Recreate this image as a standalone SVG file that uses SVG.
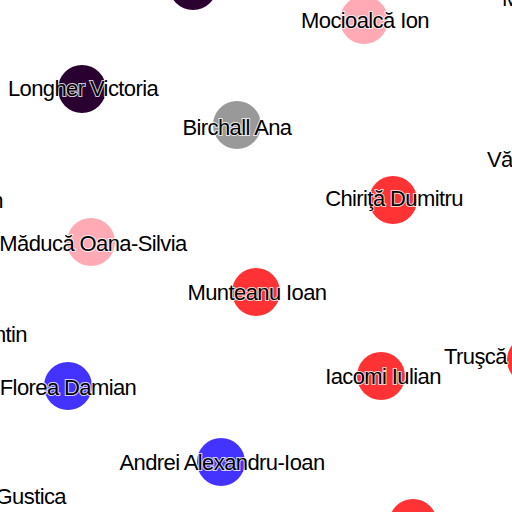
<svg xmlns="http://www.w3.org/2000/svg" width="512" height="512" viewBox="0 0 512 512">
<style>
.n{stroke:none}
.t{font-family:"Liberation Sans",Arial,sans-serif;font-size:22px;letter-spacing:-0.6px;fill:#000;stroke:#fff;stroke-width:2px;stroke-opacity:.8;paint-order:stroke;text-anchor:middle;dominant-baseline:central}
.s{text-anchor:start}.e{text-anchor:end}
.dk{fill:#2a0030}.pk{fill:#ffaab4}.gr{fill:#999}.rd{fill:#ff3333}.bl{fill:#4433ff}
</style>
<rect width="512" height="512" fill="#fff"/>
<g id="connectors"/>
<g id="n1"><circle class="n dk" cx="193" cy="-14" r="24"/></g>
<g id="n2"><circle class="n pk" cx="364" cy="20" r="24"/><text class="t" x="365" y="20">Mocioalcă Ion</text></g>
<g id="n3"><text class="t s" x="502" y="-2">M</text></g>
<g id="n4"><circle class="n dk" cx="82" cy="89" r="24"/><text class="t" x="83" y="88">Longher Victoria</text></g>
<g id="n5"><circle class="n gr" cx="237" cy="125" r="24"/><text class="t" x="237" y="127">Birchall Ana</text></g>
<g id="n6"><text class="t s" x="487" y="159">Vă</text></g>
<g id="n7"><circle class="n rd" cx="393" cy="200" r="24"/><text class="t" x="394" y="198">Chiriţă Dumitru</text></g>
<g id="n8"><text class="t e" x="3" y="200">n</text></g>
<g id="n9"><circle class="n pk" cx="91" cy="242" r="24"/><text class="t" x="93" y="243">Măducă Oana-Silvia</text></g>
<g id="n10"><circle class="n rd" cx="256" cy="292" r="24"/><text class="t" x="257" y="292">Munteanu Ioan</text></g>
<g id="n11"><text class="t e" x="27" y="334">ntin</text></g>
<g id="n12"><circle class="n bl" cx="68" cy="386" r="24"/><text class="t" x="68" y="387">Florea Damian</text></g>
<g id="n13"><circle class="n rd" cx="381" cy="376" r="24"/><text class="t" x="383" y="376">Iacomi Iulian</text></g>
<g id="n14"><circle class="n rd" cx="531" cy="360" r="24"/><text class="t s" x="444" y="356">Truşcă</text></g>
<g id="n15"><circle class="n bl" cx="221" cy="462" r="24"/><text class="t" x="222" y="462">Andrei Alexandru-Ioan</text></g>
<g id="n16"><text class="t e" x="66" y="496">Gustica</text></g>
<g id="n17"><circle class="n rd" cx="413" cy="523" r="24"/></g>
</svg>
